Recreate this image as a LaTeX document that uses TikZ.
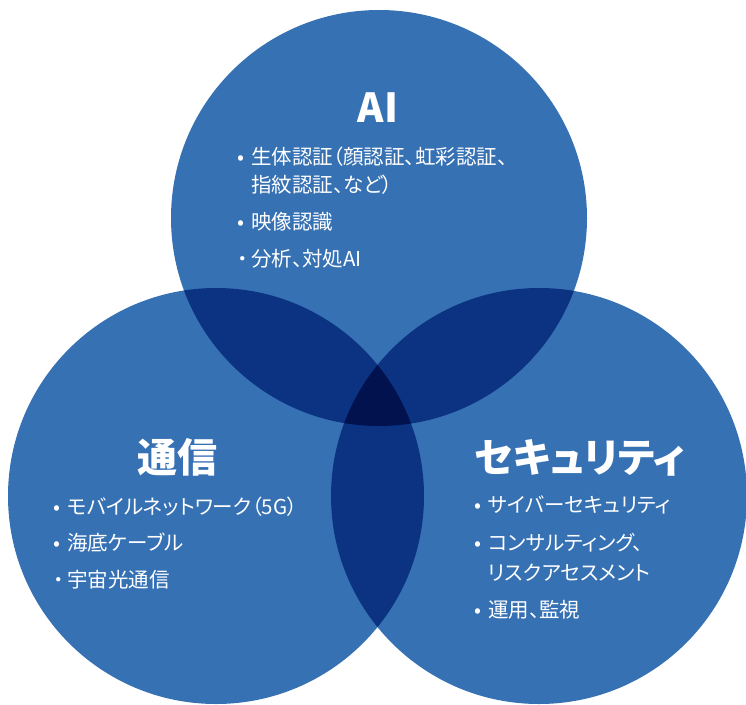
\documentclass[tikz,border=0pt]{standalone}
\usepackage{fontspec}
\setmainfont{Noto Sans CJK JP}[RawFeature=+palt]
\definecolor{venn}{HTML}{3671B4}
\definecolor{vennmid}{HTML}{0B3381}
\definecolor{venndark}{HTML}{02124F}
\newcommand\bul{\makebox[14pt][l]{•}}
\newcommand\dotbul{\makebox[14pt][l]{・}}
\newcommand\nobul{\hspace{14pt}}
\begin{document}
\begin{tikzpicture}[x=1pt, y=-1pt,
		title/.style={text=white, font=\fontsize{40}{42}\selectfont\bfseries},
		item/.style={text=white, anchor=west, inner sep=0pt, font=\fontsize{20.5}{22}\selectfont}]
		\useasboundingbox (0,0) rectangle (746,704);

		\coordinate (A) at (379,218);
		\coordinate (T) at (216,496);
		\coordinate (S) at (539,496);

		\fill[venn] (A) circle (208pt);
		\fill[venn] (T) circle (208pt);
		\fill[venn] (S) circle (208pt);

		\begin{scope}
			\clip (A) circle (208pt);
			\fill[vennmid] (T) circle (208pt);
			\fill[vennmid] (S) circle (208pt);
		\end{scope}
		\begin{scope}
			\clip (T) circle (208pt);
			\fill[vennmid] (S) circle (208pt);
		\end{scope}
		\begin{scope}
			\clip (A) circle (208pt);
			\clip (T) circle (208pt);
			\fill[venndark] (S) circle (208pt);
		\end{scope}

		\node[title] (ai) at (378,108) {AI};
		\node[item] (ai1) at (237,157) {\bul 生体認証（顔認証、虹彩認証、};
		\node[item] (ai1b) at (237,185) {\nobul 指紋認証、など）};
		\node[item] (ai2) at (237,222) {\bul 映像認識};
		\node[item] (ai3) at (237,259) {\dotbul 分析、対処AI};

		\node[title] (tsushin) at (177,457) {通信};
		\node[item] (ts1) at (53,507) {\bul モバイルネットワーク（5G）};
		\node[item] (ts2) at (53,543) {\bul 海底ケーブル};
		\node[item] (ts3) at (53,580) {\dotbul 宇宙光通信};

		\node[title] (sec) at (580,458) {セキュリティ};
		\node[item] (sc1) at (474,505) {\bul サイバーセキュリティ};
		\node[item] (sc2) at (474,543) {\bul コンサルティング、};
		\node[item] (sc2b) at (474,573) {\nobul リスクアセスメント};
		\node[item] (sc3) at (474,610) {\bul 運用、監視};

	\end{tikzpicture}
\end{document}
